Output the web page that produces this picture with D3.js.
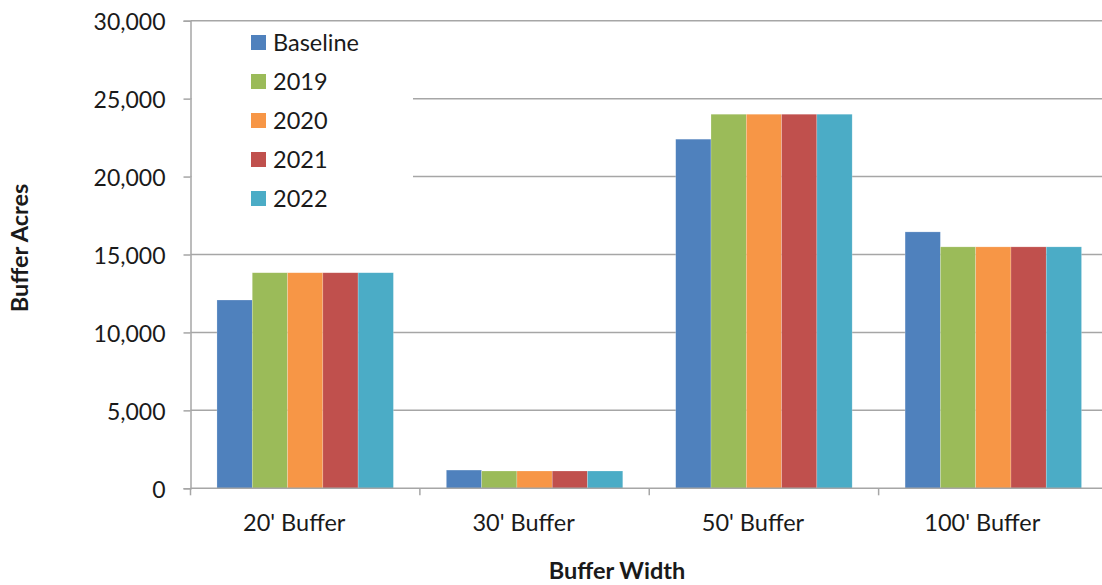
<!DOCTYPE html>
<html>
<head>
<meta charset="utf-8">
<script src="https://cdn.jsdelivr.net/npm/d3@7"></script>
<style>
  html, body { margin: 0; padding: 0; background: #fff; }
  svg { display: block; font-family: Lato, "Open Sans", sans-serif; }
</style>
</head>
<body>
<svg id="chart" width="1102" height="585"></svg>
<script>
// ---- data ----
const categories = ["20' Buffer", "30' Buffer", "50' Buffer", "100' Buffer"];
const seriesNames = ["Baseline", "2019", "2020", "2021", "2022"];
const baseline = [12080, 1170, 22400, 16450];
const y2019 = [13830, 1110, 24000, 15490];
const y2020 = [13830, 1110, 24000, 15490];
const y2021 = [13830, 1110, 24000, 15490];
const y2022 = [13830, 1110, 24000, 15490];
const yTicks = [0, 5000, 10000, 15000, 20000, 25000, 30000];
const colors = ["#4F81BD", "#9BBB59", "#F79646", "#C0504D", "#4BACC6"];

const seriesValues = [baseline, y2019, y2020, y2021, y2022];

const svg = d3.select("#chart");
const L = 190.5, R = 1108, T = 20.7, B = 488.3;

const x0 = d3.scaleBand().domain(categories).range([L, R]).paddingInner(0).paddingOuter(0);
const x1 = d3.scaleBand().domain(seriesNames).range([0, x0.bandwidth()]).paddingInner(0).paddingOuter(0.75);
const y = d3.scaleLinear().domain([0, 30000]).range([B, T]);

const gridColor = "#a6a6a6";

// gridlines
svg.append("g").selectAll("line").data(yTicks.filter(d => d > 0)).join("line")
  .attr("x1", L).attr("x2", R)
  .attr("y1", d => y(d)).attr("y2", d => y(d))
  .attr("stroke", gridColor).attr("stroke-width", 1.5);

// legend background box (covers gridlines)
svg.append("rect").attr("x", L + 1).attr("y", y(30000) + 1.5)
  .attr("width", 413 - L - 1).attr("height", 215 - y(30000) - 1.5)
  .attr("fill", "#fff");

// bars
const barData = [];
categories.forEach((c, i) => seriesNames.forEach((s, j) => barData.push({c, s, j, v: seriesValues[j][i]})));
svg.append("g").selectAll("rect").data(barData).join("rect")
  .attr("x", d => x0(d.c) + x1(d.s))
  .attr("y", d => y(d.v))
  .attr("width", x1.bandwidth())
  .attr("height", d => y(0) - y(d.v))
  .attr("fill", d => colors[d.j])
  .attr("stroke", "rgba(255,255,255,0.35)").attr("stroke-width", 0.6);

// y axis
const yAxis = svg.append("g").attr("transform", `translate(${L},0)`)
  .call(d3.axisLeft(y).tickValues(yTicks).tickSize(7).tickPadding(18).tickFormat(d3.format(",")));
yAxis.select(".domain").attr("stroke", gridColor).attr("stroke-width", 1.5);
yAxis.selectAll(".tick line").attr("stroke", gridColor).attr("stroke-width", 1.5);
yAxis.selectAll(".tick text").attr("font-size", 23).attr("fill", "#1a1a1a")
  .attr("font-family", "Lato, sans-serif").attr("dy", "0.38em");

// x axis
const xAxis = svg.append("g").attr("transform", `translate(0,${B})`)
  .call(d3.axisBottom(x0).tickSize(0).tickPadding(0));
xAxis.select(".domain").remove();
svg.append("line").attr("x1", L).attr("x2", R).attr("y1", B).attr("y2", B)
  .attr("stroke", gridColor).attr("stroke-width", 1.5);
// category boundary ticks
const bounds = categories.map(c => x0(c)).concat([R]);
svg.append("g").selectAll("line").data(bounds).join("line")
  .attr("x1", d => d).attr("x2", d => d).attr("y1", B).attr("y2", B + 7)
  .attr("stroke", gridColor).attr("stroke-width", 1.5);
xAxis.selectAll(".tick text").attr("font-size", 23.5).attr("fill", "#1a1a1a")
  .attr("font-family", "Lato, sans-serif").attr("y", 42.5).attr("dy", 0).attr("dx", -11);

// axis titles
svg.append("text").attr("x", 617).attr("y", 579).attr("text-anchor", "middle")
  .attr("font-size", 23.5).attr("font-weight", "bold").attr("fill", "#1a1a1a").text("Buffer Width");
svg.append("text").attr("transform", "translate(28,248) rotate(-90)").attr("text-anchor", "middle")
  .attr("font-size", 23.5).attr("font-weight", "bold").attr("fill", "#1a1a1a").text("Buffer Acres");

// legend
const lg = svg.append("g").selectAll("g").data(seriesNames).join("g")
  .attr("transform", (d, i) => `translate(251,${35 + i * 39})`);
lg.append("rect").attr("width", 15).attr("height", 15).attr("fill", (d, i) => colors[i]);
lg.append("text").attr("x", 22).attr("y", 15.5).attr("font-size", 23.5).attr("fill", "#1a1a1a").text(d => d);
</script>
</body>
</html>
